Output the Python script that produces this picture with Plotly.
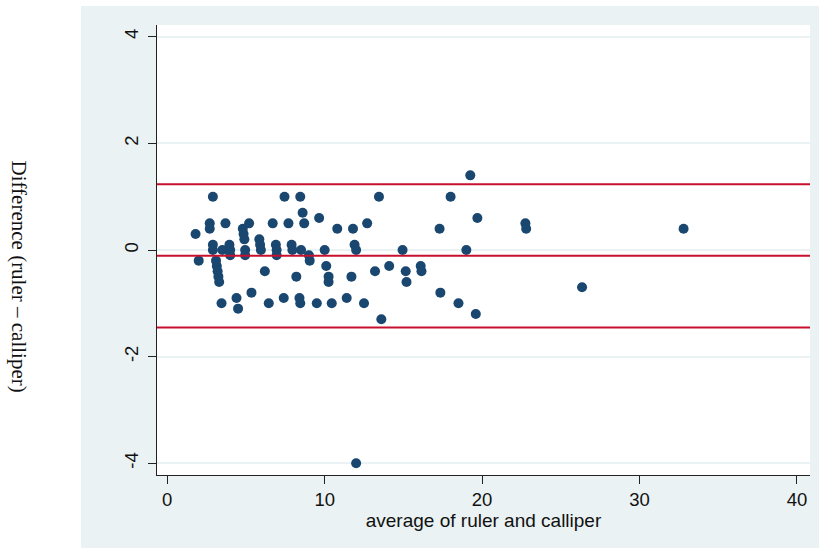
import plotly.graph_objects as go

# Bland-Altman data: mean of the two methods and their difference
avg_ruler_calliper = [
    1.8, 2.0, 2.7, 2.7, 2.9, 2.9, 2.9, 3.1, 3.15, 3.2, 3.25, 3.3, 3.45, 3.5,
    3.7, 3.95, 4.0, 4.0, 4.4, 4.5, 4.8, 4.85, 4.9, 4.95, 4.95, 5.2, 5.35,
    5.85, 5.9, 5.95, 6.2, 6.45, 6.7, 6.9, 6.95, 6.95, 7.4, 7.45, 7.7, 7.9,
    7.95, 8.2, 8.4, 8.45, 8.45, 8.5, 8.6, 8.7, 9.0, 9.05, 9.5, 9.65, 10.0,
    10.1, 10.25, 10.25, 10.45, 10.8, 11.4, 11.7, 11.8, 11.9, 12.0, 12.0,
    12.5, 12.7, 13.2, 13.45, 13.6, 14.1, 14.95, 15.15, 15.2, 16.1, 16.15,
    17.3, 17.35, 18.0, 18.5, 19.0, 19.25, 19.6, 19.7, 22.75, 22.8, 26.35,
    32.8,
]
diff_ruler_calliper = [
    0.3, -0.2, 0.5, 0.4, 1.0, 0.1, 0.0, -0.2, -0.3, -0.4, -0.5, -0.6, -1.0,
    0.0, 0.5, 0.1, 0.0, -0.1, -0.9, -1.1, 0.4, 0.3, 0.2, 0.0, -0.1, 0.5,
    -0.8, 0.2, 0.1, 0.0, -0.4, -1.0, 0.5, 0.1, 0.0, -0.1, -0.9, 1.0, 0.5,
    0.1, 0.0, -0.5, -0.9, -1.0, 1.0, 0.0, 0.7, 0.5, -0.1, -0.2, -1.0, 0.6,
    0.0, -0.3, -0.5, -0.6, -1.0, 0.4, -0.9, -0.5, 0.4, 0.1, 0.0, -4.0,
    -1.0, 0.5, -0.4, 1.0, -1.3, -0.3, 0.0, -0.4, -0.6, -0.3, -0.4, 0.4,
    -0.8, 1.0, -1.0, 0.0, 1.4, -1.2, 0.6, 0.5, 0.4, -0.7, 0.4,
]

# Mean difference and 95% limits of agreement
mean_diff = -0.11
upper_loa = 1.234
lower_loa = -1.454

x_ticks = [0, 10, 20, 30, 40]
y_ticks = [-4, -2, 0, 2, 4]

NAVY = "#1A476F"
CRIMSON = "#C8102E"
REGION = "#EAF2F3"
AXIS = "#222222"

fig = go.Figure()
fig.add_trace(go.Scatter(
    x=avg_ruler_calliper,
    y=diff_ruler_calliper,
    mode="markers",
    marker=dict(color=NAVY, size=10, line=dict(width=0)),
    showlegend=False,
    hoverinfo="x+y",
))

W, H = 819, 548
L, R, T, B = 157, 9, 25, 73
pw, ph = W - L - R, H - T - B


def px_x(p):
    return (p - L) / pw


def px_y(p):
    return (H - B - p) / ph


shapes = [
    # graph region shading
    dict(type="rect", xref="paper", yref="paper",
         x0=px_x(81), x1=px_x(W + 2), y0=px_y(H + 2), y1=px_y(6),
         fillcolor=REGION, line=dict(width=0), layer="below"),
    # white plot region
    dict(type="rect", xref="paper", yref="paper",
         x0=0, x1=1, y0=0, y1=1,
         fillcolor="white", line=dict(width=0), layer="below"),
]
for val in (upper_loa, mean_diff, lower_loa):
    shapes.append(dict(type="line", xref="paper", yref="y",
                       x0=0, x1=1, y0=val, y1=val,
                       line=dict(color=CRIMSON, width=2), layer="above"))

fig.update_layout(
    width=W, height=H,
    margin=dict(l=L, r=R, t=T, b=B, pad=0),
    paper_bgcolor="white",
    plot_bgcolor="white",
    font=dict(family="Liberation Sans, Arial, sans-serif", size=18.5, color="#111111"),
    shapes=shapes,
    xaxis=dict(
        range=[-0.65, 40.83],
        tickvals=x_ticks,
        ticktext=[str(v) for v in x_ticks],
        ticks="outside", ticklen=8, tickwidth=1, tickcolor=AXIS,
        showline=True, linecolor=AXIS, linewidth=1,
        showgrid=False, zeroline=False,
        title=dict(text="average of ruler and calliper", standoff=3,
                   font=dict(size=19)),
    ),
    yaxis=dict(
        range=[-4.22, 4.22],
        tickvals=y_ticks,
        ticktext=[str(v) for v in y_ticks],
        tickangle=-90,
        ticks="outside", ticklen=8, tickwidth=1, tickcolor=AXIS,
        ticklabelstandoff=3,
        showline=True, linecolor=AXIS, linewidth=1,
        showgrid=True, gridcolor=REGION, gridwidth=1.5,
        zeroline=False,
    ),
    annotations=[dict(
        text="Difference (ruler \u2013 calliper)",
        xref="paper", yref="paper",
        x=px_x(18.5), y=px_y(276),
        xanchor="center", yanchor="middle",
        textangle=90, showarrow=False,
        font=dict(family="Liberation Serif, Times New Roman, serif", size=21,
                  color="#111111"),
    )],
)

fig.write_html("out.html")
